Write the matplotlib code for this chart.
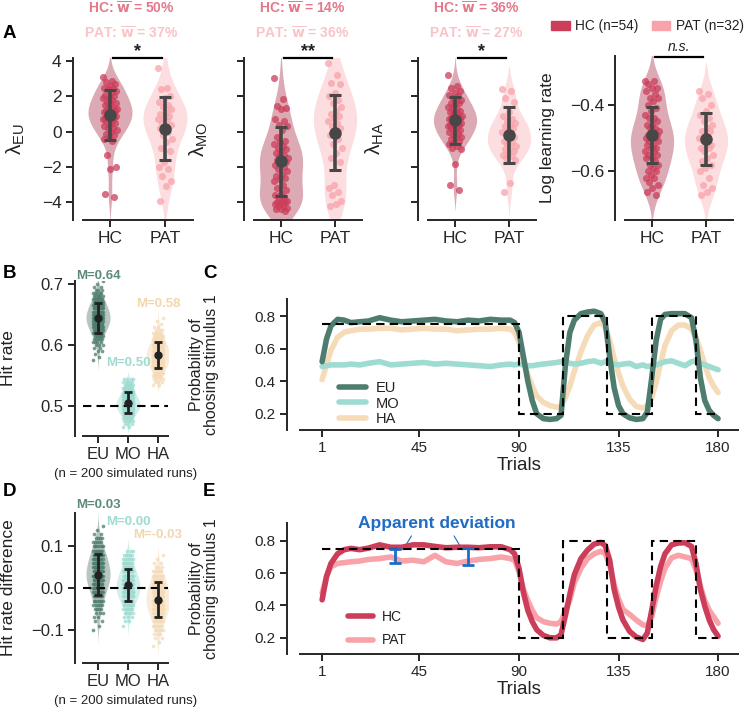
import numpy as np
import matplotlib
matplotlib.use("Agg")
import matplotlib.pyplot as plt
import seaborn as sns
from matplotlib.patches import Patch

plt.rcParams["font.family"] = ["Liberation Sans", "DejaVu Sans"]
plt.rcParams["mathtext.default"] = "regular"
plt.rcParams["axes.linewidth"] = 1.4
plt.rcParams["text.color"] = "#222222"
plt.rcParams["axes.labelcolor"] = "#222222"

# ---------------- data: panel A (fitted parameters per participant) ----------------
groups = ["HC", "PAT"]
group_n = [54, 32]

eu_hc = [3.1, 2.9, 2.8, 2.7, 2.6, 2.5, 2.5, 2.4, 2.3, 2.2, 2.1, 2.0, 1.9, 1.9, 1.8,
         1.7, 1.6, 1.6, 1.5, 1.4, 1.4, 1.3, 1.3, 1.2, 1.2, 1.1, 1.1, 1.0, 1.0, 0.9,
         0.9, 0.8, 0.8, 0.7, 0.7, 0.6, 0.6, 0.5, 0.4, 0.3, 0.2, 0.2, 0.1, 0.0, -0.1,
         -0.2, -0.3, -0.4, -0.5, -1.3, -2.0, -2.1, -3.5, -3.7]
eu_pat = [3.6, 2.5, 2.4, 2.0, 1.9, 1.7, 1.5, 1.4, 1.3, 1.1, 1.0, 0.9, 0.8, 0.7, 0.6,
          0.5, 0.4, 0.3, 0.2, 0.0, -0.2, -0.4, -0.6, -0.9, -1.1, -1.7, -2.0, -2.1,
          -2.5, -2.8, -3.1, -3.9]
mo_hc = [3.05, 1.85, 1.45, 1.35, 1.3, 0.7, 0.6, 0.4, 0.3, 0.1, -0.3, -0.5, -0.6, -0.7,
         -0.8, -0.9, -1.0, -1.1, -1.2, -1.3, -1.4, -1.5, -1.6, -1.6, -1.7, -1.8, -1.9,
         -2.0, -2.1, -2.2, -2.4, -2.5, -2.6, -2.7, -2.8, -3.0, -3.2, -3.3, -3.5, -3.6,
         -3.7, -3.8, -3.9, -3.9, -4.0, -4.0, -4.1, -4.1, -4.2, -4.2, -4.3, -4.4, -4.4, -4.5]
mo_pat = [3.9, 3.2, 2.75, 2.7, 2.2, 2.0, 1.8, 1.6, 1.4, 1.2, 1.0, 0.9, 0.8, 0.6, 0.5,
          0.3, 0.2, 0.1, -0.2, -0.4, -0.7, -0.9, -1.2, -1.5, -1.7, -3.0, -3.2, -3.4,
          -3.6, -3.9, -4.1, -4.2]
ha_hc = [3.2, 2.6, 2.5, 2.3, 2.2, 2.1, 2.0, 1.9, 1.8, 1.7, 1.6, 1.6, 1.5, 1.4, 1.3,
         1.3, 1.2, 1.1, 1.1, 1.0, 1.0, 0.9, 0.9, 0.8, 0.8, 0.7, 0.7, 0.6, 0.6, 0.5,
         0.5, 0.4, 0.4, 0.3, 0.3, 0.2, 0.2, 0.1, 0.0, 0.0, -0.1, -0.2, -0.3, -0.3,
         -0.4, -0.5, -0.6, -0.7, -0.8, -0.9, -1.0, -1.8, -3.0, -3.3]
ha_pat = [2.4, 2.3, 1.9, 1.7, 1.1, 0.9, 0.7, 0.6, 0.5, 0.4, 0.3, 0.2, 0.1, 0.0, -0.1,
          -0.2, -0.3, -0.4, -0.5, -0.6, -0.7, -0.8, -0.9, -1.0, -1.1, -1.2, -1.3,
          -1.4, -1.5, -1.6, -2.9, -3.4]
lr_hc = [-0.33, -0.33, -0.34, -0.35, -0.35, -0.36, -0.37, -0.38, -0.38, -0.39, -0.40,
         -0.41, -0.42, -0.43, -0.44, -0.44, -0.45, -0.46, -0.46, -0.47, -0.47, -0.48,
         -0.48, -0.49, -0.49, -0.50, -0.50, -0.50, -0.51, -0.51, -0.52, -0.52, -0.53,
         -0.53, -0.54, -0.54, -0.55, -0.55, -0.56, -0.56, -0.57, -0.58, -0.58, -0.59,
         -0.60, -0.60, -0.61, -0.62, -0.62, -0.63, -0.64, -0.65, -0.66, -0.67]
lr_pat = [-0.36, -0.37, -0.38, -0.40, -0.42, -0.43, -0.44, -0.45, -0.46, -0.47, -0.48,
          -0.48, -0.49, -0.50, -0.50, -0.51, -0.52, -0.52, -0.53, -0.53, -0.54, -0.55,
          -0.56, -0.57, -0.58, -0.59, -0.60, -0.62, -0.64, -0.65, -0.66, -0.67]

# group mean and error-bar ends (HC, PAT) per panel
a_mean_hc = [0.96, -1.68, 0.64, -0.490]
a_lo_hc = [-0.45, -3.63, -0.70, -0.576]
a_hi_hc = [2.38, 0.27, 1.97, -0.407]
a_mean_pat = [0.17, -0.05, -0.21, -0.504]
a_lo_pat = [-1.59, -2.19, -1.78, -0.582]
a_hi_pat = [1.95, 2.10, 1.40, -0.425]
a_sig = ["*", "**", "*", "n.s."]
w_hc = ["50%", "14%", "36%"]
w_pat = ["37%", "36%", "27%"]

# ---------------- data: panels B/D (200 simulated runs, binned) ----------------
models = ["EU", "MO", "HA"]
hit_eu_v = [0.575, 0.580, 0.585, 0.590, 0.595, 0.600, 0.605, 0.610, 0.615, 0.620, 0.625,
            0.630, 0.635, 0.640, 0.645, 0.650, 0.655, 0.660, 0.665, 0.670, 0.675, 0.680,
            0.685, 0.690, 0.695, 0.700, 0.705]
hit_eu_n = [1, 1, 1, 2, 2, 3, 4, 5, 7, 10, 11, 13, 15, 16, 17, 16, 15, 13, 12, 10, 8, 6,
            5, 3, 2, 1, 1]
hit_mo_v = [0.465, 0.470, 0.475, 0.480, 0.485, 0.490, 0.495, 0.500, 0.505, 0.510, 0.515,
            0.520, 0.525, 0.530, 0.535, 0.540, 0.545]
hit_mo_n = [2, 3, 5, 8, 12, 17, 21, 23, 22, 20, 17, 14, 11, 9, 7, 5, 4]
hit_ha_v = [0.535, 0.540, 0.545, 0.550, 0.555, 0.560, 0.565, 0.570, 0.575, 0.580, 0.585,
            0.590, 0.595, 0.600, 0.605, 0.610, 0.615, 0.620, 0.625, 0.630, 0.635, 0.640,
            0.645]
hit_ha_n = [2, 3, 4, 6, 8, 11, 13, 15, 17, 18, 18, 17, 15, 13, 11, 9, 7, 5, 3, 2, 1, 1, 1]
hit_labels = ["M=0.64", "M=0.50", "M=0.58"]

diff_eu_v = [-0.10, -0.09, -0.08, -0.07, -0.06, -0.05, -0.04, -0.03, -0.02, -0.01, 0.00,
             0.01, 0.02, 0.03, 0.04, 0.05, 0.06, 0.07, 0.08, 0.09, 0.10, 0.11, 0.12,
             0.13, 0.14, 0.15]
diff_eu_n = [1, 1, 2, 2, 3, 4, 5, 7, 9, 10, 12, 14, 16, 17, 16, 15, 14, 12, 11, 9, 7, 5,
             4, 2, 1, 1]
diff_mo_v = [-0.09, -0.08, -0.07, -0.06, -0.05, -0.04, -0.03, -0.02, -0.01, 0.00, 0.01,
             0.02, 0.03, 0.04, 0.05, 0.06, 0.07, 0.08, 0.09]
diff_mo_n = [1, 2, 3, 5, 7, 10, 14, 17, 19, 21, 20, 18, 16, 13, 11, 9, 6, 5, 3]
diff_ha_v = [-0.14, -0.13, -0.12, -0.11, -0.10, -0.09, -0.08, -0.07, -0.06, -0.05, -0.04,
             -0.03, -0.02, -0.01, 0.00, 0.01, 0.02, 0.03, 0.04, 0.05, 0.06, 0.07, 0.08]
diff_ha_n = [1, 1, 2, 3, 5, 7, 9, 11, 14, 16, 17, 18, 18, 17, 15, 13, 11, 9, 6, 3, 2, 1, 1]
diff_labels = ["M=0.03", "M=0.00", "M=-0.03"]

# ---------------- data: panels C/E (choice probability over trials) ----------------
trials = [1, 3, 5, 8, 11, 14, 18, 22, 27, 32, 37, 42, 47, 52, 57, 62, 67, 72, 77, 82,
          86, 88, 90, 92, 94, 96, 98, 101, 104, 107, 109, 111, 113, 115, 118, 121, 124,
          127, 129, 131, 133, 135, 137, 140, 143, 146, 148, 150, 152, 154, 156, 159,
          162, 165, 168, 170, 172, 174, 176, 178, 180]
p_eu = [0.52, 0.66, 0.74, 0.78, 0.775, 0.76, 0.765, 0.77, 0.79, 0.775, 0.765, 0.77,
        0.775, 0.78, 0.77, 0.765, 0.775, 0.77, 0.78, 0.775, 0.775, 0.76, 0.70, 0.55,
        0.40, 0.28, 0.20, 0.17, 0.165, 0.17, 0.19, 0.50, 0.70, 0.775, 0.815, 0.825,
        0.83, 0.815, 0.76, 0.55, 0.36, 0.25, 0.20, 0.175, 0.165, 0.17, 0.21, 0.42,
        0.65, 0.78, 0.81, 0.815, 0.815, 0.815, 0.79, 0.65, 0.42, 0.28, 0.22, 0.19, 0.17]
p_mo = [0.49, 0.495, 0.50, 0.50, 0.50, 0.505, 0.50, 0.51, 0.52, 0.50, 0.505, 0.51,
        0.515, 0.505, 0.51, 0.505, 0.50, 0.495, 0.49, 0.50, 0.505, 0.50, 0.505, 0.50,
        0.495, 0.495, 0.50, 0.505, 0.51, 0.515, 0.52, 0.515, 0.51, 0.505, 0.51, 0.52,
        0.525, 0.51, 0.52, 0.515, 0.505, 0.50, 0.505, 0.51, 0.49, 0.50, 0.49, 0.495,
        0.50, 0.51, 0.52, 0.525, 0.51, 0.495, 0.52, 0.525, 0.51, 0.50, 0.49, 0.48, 0.47]
p_ha = [0.41, 0.50, 0.59, 0.67, 0.70, 0.71, 0.72, 0.72, 0.725, 0.725, 0.715, 0.72,
        0.725, 0.72, 0.72, 0.71, 0.715, 0.72, 0.72, 0.725, 0.72, 0.70, 0.64, 0.53,
        0.44, 0.37, 0.31, 0.27, 0.25, 0.24, 0.245, 0.30, 0.37, 0.46, 0.58, 0.68,
        0.745, 0.76, 0.73, 0.65, 0.54, 0.45, 0.37, 0.29, 0.245, 0.235, 0.25, 0.30,
        0.39, 0.51, 0.62, 0.71, 0.745, 0.745, 0.72, 0.67, 0.59, 0.50, 0.42, 0.37, 0.33]
p_hc = [0.435, 0.58, 0.66, 0.72, 0.745, 0.753, 0.745, 0.755, 0.775, 0.76, 0.76, 0.775,
        0.775, 0.765, 0.757, 0.76, 0.76, 0.757, 0.763, 0.763, 0.745, 0.72, 0.63, 0.48,
        0.37, 0.30, 0.25, 0.215, 0.20, 0.20, 0.22, 0.34, 0.47, 0.59, 0.69, 0.743,
        0.78, 0.79, 0.77, 0.68, 0.50, 0.39, 0.31, 0.24, 0.205, 0.19, 0.23, 0.37,
        0.52, 0.64, 0.72, 0.775, 0.786, 0.788, 0.765, 0.66, 0.50, 0.395, 0.31, 0.25, 0.21]
p_pat = [0.476, 0.58, 0.64, 0.66, 0.665, 0.67, 0.675, 0.685, 0.69, 0.70, 0.675, 0.68,
         0.67, 0.71, 0.67, 0.66, 0.675, 0.685, 0.69, 0.70, 0.69, 0.68, 0.61, 0.50,
         0.43, 0.37, 0.325, 0.30, 0.29, 0.285, 0.30, 0.37, 0.435, 0.54, 0.63, 0.69,
         0.72, 0.735, 0.72, 0.65, 0.53, 0.44, 0.375, 0.345, 0.31, 0.28, 0.275, 0.33,
         0.45, 0.55, 0.63, 0.695, 0.71, 0.70, 0.69, 0.62, 0.52, 0.43, 0.37, 0.33, 0.29]
block_edges = [1, 90, 110, 130, 150, 170, 180]
block_probs = [0.75, 0.2, 0.8, 0.2, 0.8, 0.2]
dev_trials = [34, 67]
dev_top = [0.747, 0.757]
dev_bottom = [0.665, 0.650]

# ---------------- colours ----------------
C_HC, C_PAT = "#cc3d5a", "#f8a3aa"
V_HC, V_PAT = "#dcaab4", "#fcdde0"
T_HC, T_PAT = "#e27a8c", "#f9c3c8"
C_MOD = ["#4e7d6f", "#9edbd1", "#f5dbb8"]
V_MOD = ["#b7c7c0", "#d2efea", "#f9ecdb"]
T_MOD = ["#5c8a7c", "#9edbd1", "#f3d6ae"]
BLUE = "#1f6cc4"
DARK = "#262626"

W, H = 750, 707
fig = plt.figure(figsize=(7.5, 7.07), dpi=100)


def add_ax(left, top, right, bottom):
    return fig.add_axes([left / W, 1 - bottom / H, (right - left) / W, (bottom - top) / H])


def style(ax, offset, size):
    ax.spines["top"].set_visible(False)
    ax.spines["right"].set_visible(False)
    ax.spines["left"].set_position(("outward", offset))
    for s in ("left", "bottom"):
        ax.spines[s].set_color(DARK)
    ax.tick_params(direction="out", length=5, width=1.4, color=DARK,
                   labelcolor=DARK, labelsize=size, pad=3)


def jitter(n, spread):
    return ((np.arange(n) * 0.618034) % 1.0 - 0.5) * 2 * spread


def violins(ax, names, samples, vcolors):
    xs, ys = [], []
    for name, s in zip(names, samples):
        xs += [name] * len(s)
        ys += list(s)
    sns.violinplot(x=xs, y=ys, hue=xs, order=names, hue_order=names,
                   palette=dict(zip(names, vcolors)), inner=None, linewidth=0,
                   cut=2, width=0.8, saturation=1, legend=False, ax=ax)


# ---------------- panel A ----------------
a_boxes = [(82.5, 57.6, 192.5, 220), (254, 57.6, 362, 220),
           (428, 57.6, 536, 220), (625, 56, 733, 220)]
a_data = [(eu_hc, eu_pat), (mo_hc, mo_pat), (ha_hc, ha_pat), (lr_hc, lr_pat)]
a_ylabels = [r"λ$_{EU}$", r"λ$_{MO}$", r"λ$_{HA}$", "Log learning rate"]
a_label_x = [27, 210, 386, 555]

for k in range(4):
    ax = add_ax(*a_boxes[k])
    hc, pat = a_data[k]
    violins(ax, groups, [hc, pat], [V_HC, V_PAT])
    ax.scatter(0 + jitter(len(hc), 0.13), hc, s=26, color=C_HC, alpha=0.75, lw=0, zorder=3)
    ax.scatter(1 + jitter(len(pat), 0.13), pat, s=26, color=C_PAT, alpha=0.75, lw=0, zorder=3)
    for pos, m, lo, hi in ((0, a_mean_hc[k], a_lo_hc[k], a_hi_hc[k]),
                           (1, a_mean_pat[k], a_lo_pat[k], a_hi_pat[k])):
        ax.errorbar(pos, m, yerr=[[m - lo], [hi - m]], fmt="o", color="#474747",
                    ms=8, capsize=4, elinewidth=2.6, capthick=2.2, zorder=5)
    style(ax, 7, 12.5)
    ax.set_xlim(-0.5, 1.5)
    ax.set_xticks([0, 1])
    ax.set_xticklabels(groups)
    if k < 3:
        ax.set_ylim(-5, 4.2)
        ax.set_yticks([-4, -2, 0, 2, 4])
        if k > 0:
            ax.set_yticklabels([])
        fs = 15
    else:
        ax.set_ylim(-0.745, -0.255)
        ax.set_yticks([-0.6, -0.4])
        fs = 12.5
    ax.set_xlabel("")
    ax.set_ylabel(a_ylabels[k], fontsize=fs)
    x0, _, x1, _ = a_boxes[k]
    ax.yaxis.set_label_coords((a_label_x[k] - x0) / (x1 - x0), 0.5)
    # significance bar
    tr = ax.get_xaxis_transform()
    ax.plot([0.05, 0.95], [0.995, 0.995], color="black", lw=1.6, transform=tr, clip_on=False)
    if a_sig[k] == "n.s.":
        ax.text(0.5, 1.01, a_sig[k], transform=tr, ha="center", va="bottom",
                fontsize=10, style="italic")
    else:
        ax.text(0.5, 0.985, a_sig[k], transform=tr, ha="center", va="bottom",
                fontsize=13, fontweight="bold")
    if k < 3:
        cx = ((x0 + x1) / 2 - 6) / W
        fig.text(cx, 1 - 8 / H, r"HC: $\overline{\mathbf{w}}$ = " + w_hc[k], color=T_HC,
                 ha="center", va="center", fontsize=10, fontweight="bold")
        fig.text(cx, 1 - 33 / H, r"PAT: $\overline{\mathbf{w}}$ = " + w_pat[k], color=T_PAT,
                 ha="center", va="center", fontsize=10, fontweight="bold")

fig.legend(handles=[Patch(color=C_HC, label=f"HC (n={group_n[0]})"),
                    Patch(color=C_PAT, label=f"PAT (n={group_n[1]})")],
           loc="center right", bbox_to_anchor=(752 / W, 1 - 26 / H), ncol=2, frameon=False,
           fontsize=9.8, handlelength=1.35, handleheight=0.65, columnspacing=1.0,
           handletextpad=0.4, borderaxespad=0.2)

# ---------------- panels B and D ----------------
hit_samples = [np.repeat(hit_eu_v, hit_eu_n), np.repeat(hit_mo_v, hit_mo_n),
               np.repeat(hit_ha_v, hit_ha_n)]
diff_samples = [np.repeat(diff_eu_v, diff_eu_n), np.repeat(diff_mo_v, diff_mo_n),
                np.repeat(diff_ha_v, diff_ha_n)]


def sim_panel(ax, samples, labels, label_y, ref):
    violins(ax, models, samples, V_MOD)
    for i, s in enumerate(samples):
        ax.scatter(i + jitter(len(s), 0.17), s, s=7, color=C_MOD[i], alpha=0.75, lw=0, zorder=3)
        m, sd = np.mean(s), np.std(s)
        ax.errorbar(i, m, yerr=sd, fmt="o", color="#222222", ms=5, capsize=3,
                    elinewidth=2, capthick=2, zorder=5)
        ax.text(i, label_y[i], labels[i], color=T_MOD[i], ha="center", va="center",
                fontsize=9.5, fontweight="bold")
    ax.axhline(ref, color="black", ls=(0, (4, 2.5)), lw=1.5, zorder=4)
    style(ax, 6, 12)
    ax.set_xlim(-0.5, 2.33)
    ax.set_xticks([0, 1, 2])
    ax.set_xticklabels(models)
    ax.set_xlabel("(n = 200 simulated runs)", fontsize=9.5, labelpad=4)


axB = add_ax(83, 281, 168, 436)
sim_panel(axB, hit_samples, hit_labels, [0.713, 0.570, 0.667], 0.5)
axB.set_ylim(0.451, 0.705)
axB.set_yticks([0.5, 0.6, 0.7])
axB.set_ylabel("Hit rate", fontsize=12.5)
axB.yaxis.set_label_coords((16 - 83) / 85, 0.5)

axD = add_ax(83, 513, 168, 663)
sim_panel(axD, diff_samples, diff_labels, [0.2, 0.159, 0.128], 0.0)
axD.set_ylim(-0.18, 0.18)
axD.set_yticks([-0.1, 0.0, 0.1])
axD.set_ylabel("Hit rate difference", fontsize=12.5)
axD.yaxis.set_label_coords((16 - 83) / 85, 0.5)


# ---------------- panels C and E ----------------
def prob_panel(ax, curves, colors, labels, ytop):
    for i, (vals, c, lab) in enumerate(zip(curves, colors, labels)):
        ax.plot(trials, vals, color=c, lw=4, label=lab, solid_capstyle="round",
                zorder=4 - i * 0.5)
    ax.stairs(block_probs, block_edges, baseline=None, color="black",
              ls=(0, (4, 2.5)), lw=1.5, zorder=6)
    style(ax, 9.5, 11)
    ax.set_xlim(-9, 189)
    ax.set_ylim(0.1, ytop)
    ax.set_xticks([1, 45, 90, 135, 180])
    ax.set_yticks([0.2, 0.4, 0.6, 0.8])
    ax.set_xlabel("Trials", fontsize=13.5, labelpad=1)
    ax.set_ylabel("Probability of\nchoosing stimulus 1", fontsize=11.5, linespacing=1.0)
    ax.yaxis.set_label_coords((219 - 300) / 438, 0.5)


axC = add_ax(300, 299, 738, 430)
prob_panel(axC, [p_eu, p_mo, p_ha], C_MOD, models, 0.905)
axC.legend(loc="lower left", bbox_to_anchor=(0.06, -0.07), frameon=False, fontsize=10.5,
           handlelength=1.8, labelspacing=0.1, handletextpad=0.7)

axE = add_ax(300, 523, 738, 654)
prob_panel(axE, [p_hc, p_pat], [C_HC, C_PAT], groups, 0.91)
axE.legend(loc="lower left", bbox_to_anchor=(0.08, -0.045), frameon=False, fontsize=10,
           handlelength=1.8, labelspacing=0.7, handletextpad=0.7)
dev_mid = [(t + b) / 2 for t, b in zip(dev_top, dev_bottom)]
dev_half = [(t - b) / 2 for t, b in zip(dev_top, dev_bottom)]
axE.errorbar(dev_trials, dev_mid, yerr=dev_half, fmt="none", ecolor=BLUE,
             elinewidth=2, capsize=4, capthick=2, zorder=7)
axE.text(53, 0.905, "Apparent deviation", color=BLUE, fontsize=12.5,
         fontweight="bold", ha="center", va="center", clip_on=False)
for tip, tail in (((37, 0.73), (42, 0.845)), ((65, 0.73), (60, 0.845))):
    axE.annotate("", xy=tip, xytext=tail,
                 arrowprops=dict(arrowstyle="-", color=BLUE, lw=0.8))

# ---------------- panel letters ----------------
for letter, x, y in (("A", 3, 33), ("B", 3, 273), ("C", 203, 273),
                     ("D", 3, 491), ("E", 203, 491)):
    fig.text(x / W, 1 - y / H, letter, fontsize=13.5, fontweight="bold",
             ha="left", va="center", color="black")

fig.savefig("out.png", dpi=100)
